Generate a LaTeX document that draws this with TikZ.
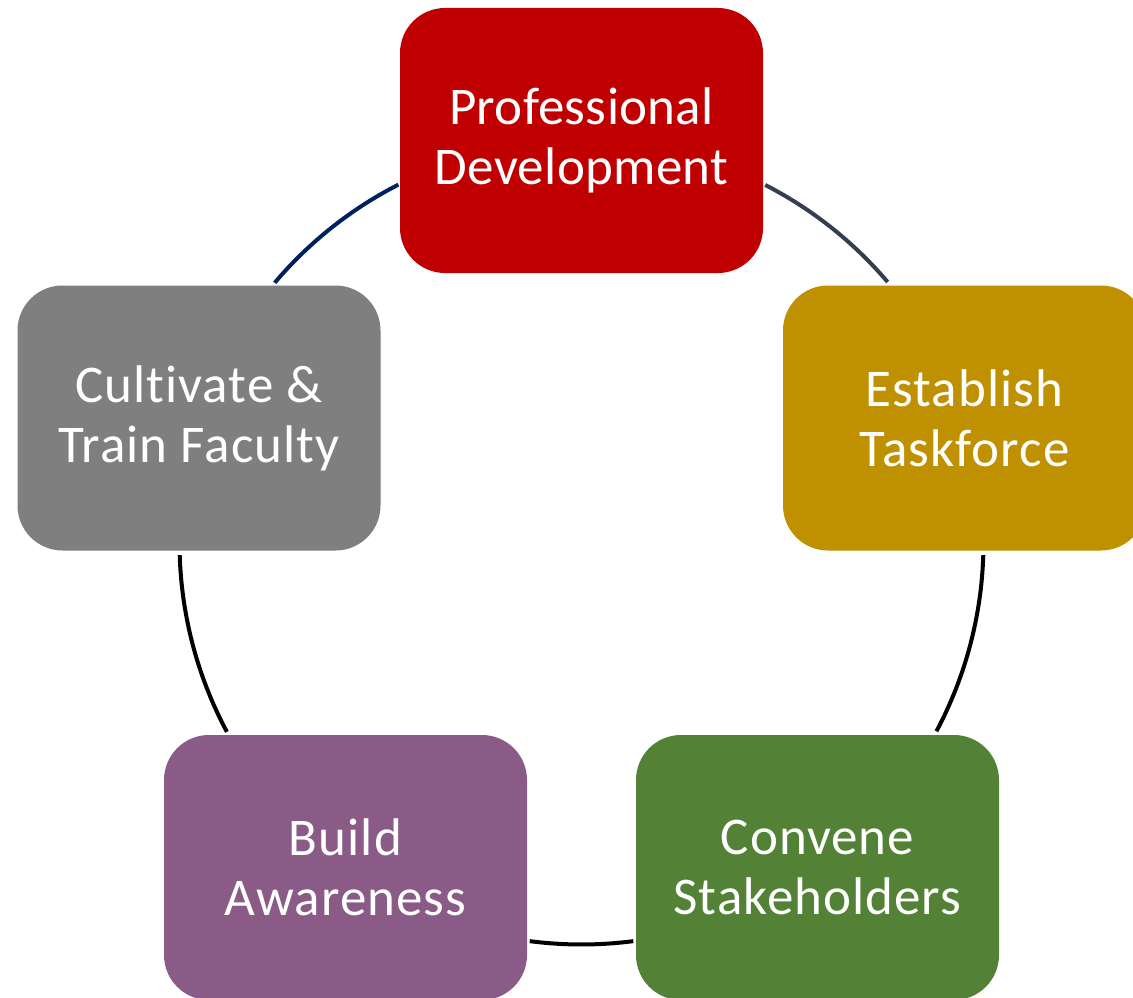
\documentclass[tikz,border=0pt]{standalone}
\usepackage{fontspec}
\setmainfont{Carlito}[LetterSpace=2,Ligatures=NoCommon]
\newfontfamily\tightfont{Carlito}[LetterSpace=0.6,Ligatures=NoCommon]
\usetikzlibrary{calc}
\definecolor{cRed}{HTML}{C00000}
\definecolor{cGold}{HTML}{BF9000}
\definecolor{cGrey}{HTML}{7F7F7F}
\definecolor{cPurple}{HTML}{8A5B87}
\definecolor{cGreen}{HTML}{538135}
\definecolor{cNavy}{HTML}{002060}
\definecolor{cSlate}{HTML}{333F50}
\tikzset{
  stepbox/.style={draw=none, rounded corners=45pt, minimum width=363pt, minimum height=265pt,
    inner sep=0pt, align=center, text=white, font=\fontsize{53pt}{60pt}\selectfont},
  link/.style={line width=4pt}
}
\begin{document}
\begin{tikzpicture}[x=1pt,y=1pt]
\useasboundingbox (0,0) rectangle (1133,-998);
\clip (0,0) rectangle (1133,-998);
\fill[white] (0,0) rectangle (1133,-998);
\coordinate (c) at (581.5,-542.5);
\node[stepbox, fill=cRed, font=\fontsize{53pt}{60pt}\tightfont] (pd) at (581.5,-140.5) {Professional\\Development};
\node[stepbox, fill=cGold] (et) at (964.5,-418) {Establish\\Taskforce};
\node[stepbox, fill=cGreen] (cs) at (817.5,-867.5) {Convene\\Stakeholders};
\node[stepbox, fill=cPurple] (ba) at (345.5,-867.5) {Build\\Awareness};
\node[stepbox, fill=cGrey] (ct) at (199,-418) {Cultivate \&\\Train Faculty};
% arc connectors on the circle through the box centres
\coordinate (a1) at ($(c)+(62.8:402)$);
\coordinate (a2) at ($(c)+(-1.8:402)$);
\coordinate (a3) at ($(c)+(-82.6:402)$);
\coordinate (a4) at ($(c)+(-151.9:402)$);
\coordinate (a5) at ($(c)+(139.75:402)$);
\draw[link, cSlate] (a1) arc[start angle=62.8, end angle=40.4, radius=402];
\draw[link, black] (a2) arc[start angle=-1.8, end angle=-28, radius=402];
\draw[link, black] (a3) arc[start angle=-82.6, end angle=-97.4, radius=402];
\draw[link, black] (a4) arc[start angle=-151.9, end angle=-178.2, radius=402];
\draw[link, cNavy] (a5) arc[start angle=139.75, end angle=117.1, radius=402];
\end{tikzpicture}
\end{document}
